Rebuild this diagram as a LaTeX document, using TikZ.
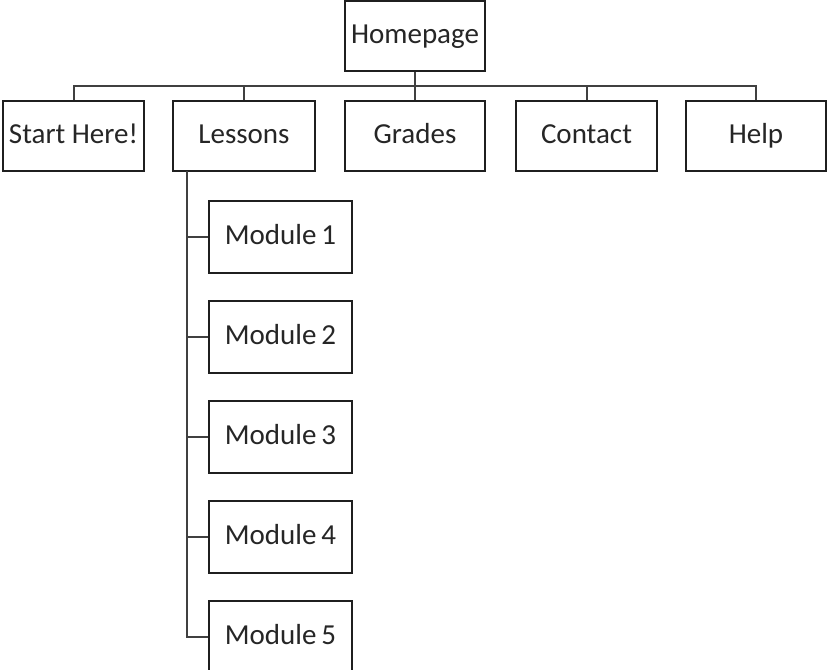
\documentclass[tikz,border=0pt]{standalone}
\usepackage{fontspec}
\setmainfont{Carlito}
\begin{document}
\begin{tikzpicture}[x=0.75pt,y=-0.75pt,
  box/.style={draw=black!88,line width=1.5pt,fill=white,inner sep=0pt,
    minimum height=52.5pt,font=\fontsize{21.75}{26}\selectfont,text=black!85,
    text height=15pt,text depth=4pt},
  topbox/.style={box,minimum width=105pt},
  modbox/.style={box,minimum width=107pt,minimum height=54pt},
  link/.style={draw=black!75,line width=1.5pt}]
\clip (0,0) rectangle (827,669);
\fill[white] (0,0) rectangle (827,669);
\node[topbox] (home) at (415,36) {Homepage};
\node[box,minimum width=105.75pt] (start) at (73.5,136) {Start Here!};
\node[box,minimum width=106.5pt] (lessons) at (244,136) {Lessons};
\node[topbox] (grades) at (415,136) {Grades};
\node[box,minimum width=105.75pt] (contact) at (586.5,136) {Contact};
\node[topbox] (help) at (756,136) {Help};
\foreach \i in {1,...,5}{
  \node[modbox] (m\i) at (280.5,137+100*\i) {Module\,\i};
}
\coordinate (bar) at (415,86);
\coordinate (stem) at (187,171);
\draw[link] (home.south) -- (bar);
\foreach \c in {start,lessons,grades,contact,help}{
  \draw[link] (bar) -| (\c.north);
}
\foreach \i in {1,...,5}{
  \draw[link] (stem) |- (m\i.west);
}
\end{tikzpicture}
\end{document}
